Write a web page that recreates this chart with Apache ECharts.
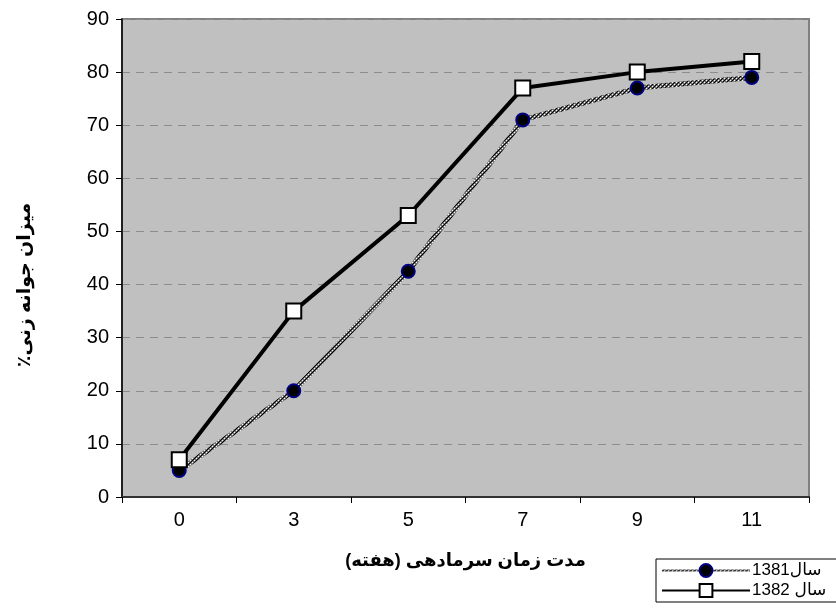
<!DOCTYPE html>
<html><head><meta charset="utf-8">
<script src="https://cdn.jsdelivr.net/npm/echarts@6/dist/echarts.min.js"></script>
<style>html,body{margin:0;padding:0;background:#fff}#c{width:836px;height:610px}</style>
</head><body><div id="c"></div>
<script>
const categories = ['0', '3', '5', '7', '9', '11'];
const s1381 = [5, 20, 42.5, 71, 77, 79];
const s1382 = [7, 35, 53, 77, 80, 82];
const name1381 = '\u202Bسال1381\u202C';
const name1382 = '\u202Bسال 1382\u202C';
const xTitle = '\u202Bمدت زمان سرمادهی (هفته)\u202C';
const yTitle = '\u202Bمیزان جوانه زنی٪\u202C';

const pc = document.createElement('canvas');
pc.width = 4; pc.height = 4;
const g = pc.getContext('2d');
g.fillStyle = '#6e6e6e'; g.fillRect(0, 0, 4, 4);
g.fillStyle = '#000'; g.fillRect(0, 0, 1, 1); g.fillRect(2, 2, 1, 1); g.fillRect(1, 3, 1, 1); g.fillRect(3, 1, 1, 1);
g.fillStyle = '#ffffff'; g.fillRect(2, 0, 1, 1); g.fillRect(0, 2, 1, 1);
const pattern = { image: pc, repeat: 'repeat' };

const FONT = '"Liberation Sans", Arial, "DejaVu Sans", sans-serif';
const chart = echarts.init(document.getElementById('c'), null, { renderer: 'canvas' });
chart.setOption({
  animation: false,
  textStyle: { fontFamily: FONT },
  grid: { left: 122, right: 27, top: 19, bottom: 113, show: true, backgroundColor: '#C0C0C0', borderColor: '#808080', borderWidth: 2 },
  xAxis: {
    type: 'category', data: categories, boundaryGap: true,
    name: xTitle, nameLocation: 'middle', nameGap: 55,
    nameTextStyle: { fontSize: 18, fontWeight: 'bold', color: '#000', fontFamily: FONT },
    axisLine: { lineStyle: { color: '#333', width: 2 } },
    axisTick: { show: true, interval: 0, length: 6, lineStyle: { color: '#000', width: 1 } },
    axisLabel: { color: '#000', fontSize: 20, margin: 13, fontFamily: FONT },
    splitLine: { show: false }
  },
  yAxis: {
    type: 'value', min: 0, max: 90, interval: 10,
    name: yTitle, nameLocation: 'middle', nameGap: 88, nameRotate: 90,
    nameTextStyle: { fontSize: 19, fontWeight: 'bold', color: '#000', fontFamily: FONT, padding: [0, 54, 0, 0] },
    axisLine: { show: true, lineStyle: { color: '#000', width: 1.5 } },
    axisTick: { show: true, length: 6, lineStyle: { color: '#000' } },
    axisLabel: { color: '#000', fontSize: 20, margin: 13, fontFamily: FONT },
    splitLine: { show: true, lineStyle: { color: '#8c8c8c', type: [8, 6], width: 1 } }
  },
  legend: {
    orient: 'vertical', left: 656, top: 559,
    backgroundColor: '#fff', borderColor: '#000', borderWidth: 1,
    padding: [3, 20, 3, 5], itemGap: 3, itemWidth: 88, itemHeight: 16,
    textStyle: { color: '#000', fontSize: 17, fontFamily: FONT, padding: [0, 0, 0, -3] },
    data: [name1381, name1382]
  },
  series: [
    {
      name: name1381, type: 'line', data: s1381,
      symbol: 'circle', symbolSize: 13,
      lineStyle: { color: pattern, width: 5 },
      itemStyle: { color: '#000', borderColor: '#000080', borderWidth: 2 },
      z: 2
    },
    {
      name: name1382, type: 'line', data: s1382,
      symbol: 'rect', symbolSize: 15,
      lineStyle: { color: '#000', width: 4 },
      itemStyle: { color: '#fff', borderColor: '#000', borderWidth: 2 },
      z: 3
    }
  ]
});
</script></body></html>
